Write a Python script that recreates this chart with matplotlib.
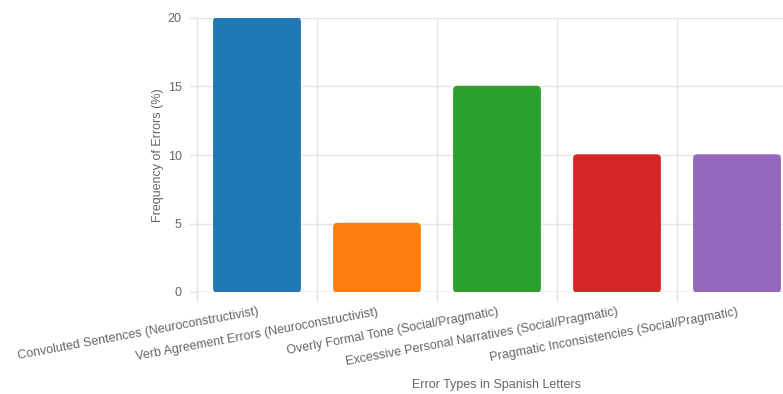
import matplotlib
matplotlib.use("Agg")
import matplotlib.pyplot as plt
from matplotlib.patches import FancyBboxPatch
import numpy as np

categories = [
    "Convoluted Sentences (Neuroconstructivist)",
    "Verb Agreement Errors (Neuroconstructivist)",
    "Overly Formal Tone (Social/Pragmatic)",
    "Excessive Personal Narratives (Social/Pragmatic)",
    "Pragmatic Inconsistencies (Social/Pragmatic)",
]
values = [20, 5, 15, 10, 10]
colors = ["#1f77b4", "#ff7f0e", "#2ca02c", "#d62728", "#9467bd"]
y_ticks = [0, 5, 10, 15, 20]

plt.rcParams["font.family"] = ["Liberation Sans", "DejaVu Sans"]
text_color = "#666666"
grid_color = "#e4e4e4"

W, H = 783, 394
fig = plt.figure(figsize=(W / 100, H / 100), dpi=100)
left, right, top, bottom = 197, 797, 18, 292
ax = fig.add_axes([left / W, 1 - bottom / H, (right - left) / W, (bottom - top) / H])

x = np.arange(len(categories))
bar_w = 0.72
bars = ax.bar(x, values, width=bar_w, color=colors, zorder=2)

# replace plain rectangles with slightly rounded ones
px_per_x = (right - left) / len(categories)
px_per_y = (bottom - top) / 20
for rect, c in zip(bars.patches, colors):
    rect.set_visible(False)
    bx, by = rect.get_x(), rect.get_y()
    bw, bh = rect.get_width(), rect.get_height()
    patch = FancyBboxPatch((bx, by), bw, bh,
                           boxstyle="round,pad=0,rounding_size=0.03",
                           mutation_aspect=px_per_x / px_per_y,
                           facecolor=c, edgecolor=c, linewidth=1.0, zorder=2)
    ax.add_patch(patch)

ax.set_xlim(-0.5, len(categories) - 0.5)
ax.set_ylim(0, 20)

ax.set_yticks(y_ticks)
ax.set_yticklabels([str(v) for v in y_ticks])
ax.set_xticks(x)
ax.set_xticklabels(categories, rotation=10.5, ha="right", rotation_mode="anchor")

# category boundary grid lines
boundaries = np.arange(len(categories) + 1) - 0.5
for b in boundaries:
    ax.axvline(b, color=grid_color, lw=1, zorder=0, clip_on=False)
    ax.plot([b, b], [0, -0.6], color=grid_color, lw=1, clip_on=False, zorder=0)
for t in y_ticks:
    ax.axhline(t, color=grid_color, lw=1, zorder=0)
    ax.plot([-0.5 - 0.06, -0.5], [t, t], color=grid_color, lw=1, clip_on=False, zorder=0)
ax.axhline(0, color="#cccccc", lw=1, zorder=1)

ax.tick_params(axis="x", length=0, pad=10, labelsize=9, labelcolor=text_color)
ax.tick_params(axis="y", length=0, pad=11, labelsize=9, labelcolor=text_color)
for s in ax.spines.values():
    s.set_visible(False)

ax.set_ylabel("Frequency of Errors (%)", fontsize=9, color=text_color, labelpad=3)
fig.text(497 / W, 1 - 385 / H, "Error Types in Spanish Letters",
         fontsize=9, color=text_color, ha="center", va="center")

fig.savefig("out.png", dpi=100)
